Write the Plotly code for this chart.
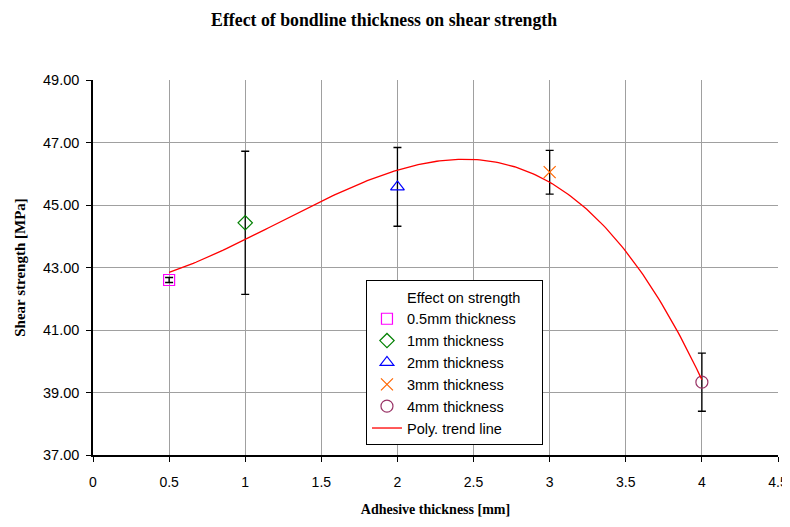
import numpy as np
import plotly.graph_objects as go

# Data
thickness = [0.5, 1, 2, 3, 4]
strength = [42.60, 44.43, 45.58, 46.05, 39.33]
errors = [0.08, 2.29, 1.26, 0.70, 0.93]
names = ["0.5mm thickness", "1mm thickness", "2mm thickness", "3mm thickness", "4mm thickness"]
symbols = ["square-open", "diamond-open", "triangle-up-open", "x-thin-open", "circle-open"]
colors = ["#FF00FF", "#008000", "#0000FF", "#FF6600", "#993366"]
sizes = [11, 11, 12, 12, 12]

x_ticks = [0, 0.5, 1, 1.5, 2, 2.5, 3, 3.5, 4, 4.5]
y_ticks = [37, 39, 41, 43, 45, 47, 49]

# Polynomial (3rd order) trend line fitted to the data, as in the original
coef = np.polyfit(thickness, strength, 3)
xt = np.linspace(min(thickness), max(thickness), 200)
yt = np.polyval(coef, xt)

fig = go.Figure()

# legend header entry
fig.add_trace(go.Scatter(x=[None], y=[None], mode="markers",
                         name="Effect on strength\u00a0\u00a0\u00a0\u00a0",
                         marker=dict(color="rgba(0,0,0,0)", size=1), hoverinfo="skip"))

for xi, yi, ei, n, s, c, sz in zip(thickness, strength, errors, names, symbols, colors, sizes):
    fig.add_trace(go.Scatter(
        x=[xi], y=[yi], mode="markers", name=n,
        marker=dict(symbol=s, size=sz, color=c, line=dict(color=c, width=1.2)),
        error_y=dict(type="data", array=[ei], visible=True, color="black", thickness=1.3, width=4),
    ))

fig.add_trace(go.Scatter(x=xt, y=yt, mode="lines", name="Poly. trend line",
                         line=dict(color="#FF0000", width=1.3)))

font_sans = "Arial, Liberation Sans, sans-serif"
font_serif = "Times New Roman, Liberation Serif, serif"

fig.update_layout(
    width=782, height=519,
    margin=dict(l=85, r=12, t=72, b=72, autoexpand=False),
    paper_bgcolor="white", plot_bgcolor="white",
    title=dict(text="<b>Effect of bondline thickness on shear strength</b>",
               x=0.481, xanchor="center", y=0.977, yanchor="middle",
               font=dict(family=font_serif, size=17.8, color="black")),
    font=dict(family=font_sans, size=14, color="black"),
    xaxis=dict(range=[0, 4.5], tickvals=x_ticks, ticktext=[f"{v:g}" for v in x_ticks],
               showgrid=True, gridcolor="#A0A0A0", gridwidth=1,
               showline=True, linecolor="black", linewidth=1.5,
               ticks="outside", ticklen=5, tickcolor="black",
               ticklabelstandoff=8, automargin=False,
               zeroline=False, tickfont=dict(family=font_sans, size=14),
               title=dict(text="<b>Adhesive thickness [mm]</b>", standoff=16,
                          font=dict(family=font_serif, size=14))),
    yaxis=dict(range=[37, 49], tickvals=y_ticks, ticktext=[f"{v:.2f}" for v in y_ticks],
               showgrid=True, gridcolor="#A0A0A0", gridwidth=1,
               showline=True, linecolor="black", linewidth=1.5,
               ticks="outside", ticklen=5, tickcolor="black",
               ticklabelstandoff=4, automargin=False,
               zeroline=False, tickfont=dict(family=font_sans, size=14.5),
               title=dict(text="<b>Shear strength [MPa]</b>", standoff=14,
                          font=dict(family=font_serif, size=15))),
    legend=dict(x=0.3985, y=0.4667, xanchor="left", yanchor="top",
                bgcolor="white", bordercolor="black", borderwidth=1,
                font=dict(family=font_sans, size=14.5), tracegroupgap=0,
                itemwidth=30),
    showlegend=True,
)

fig.write_html("out.html")
